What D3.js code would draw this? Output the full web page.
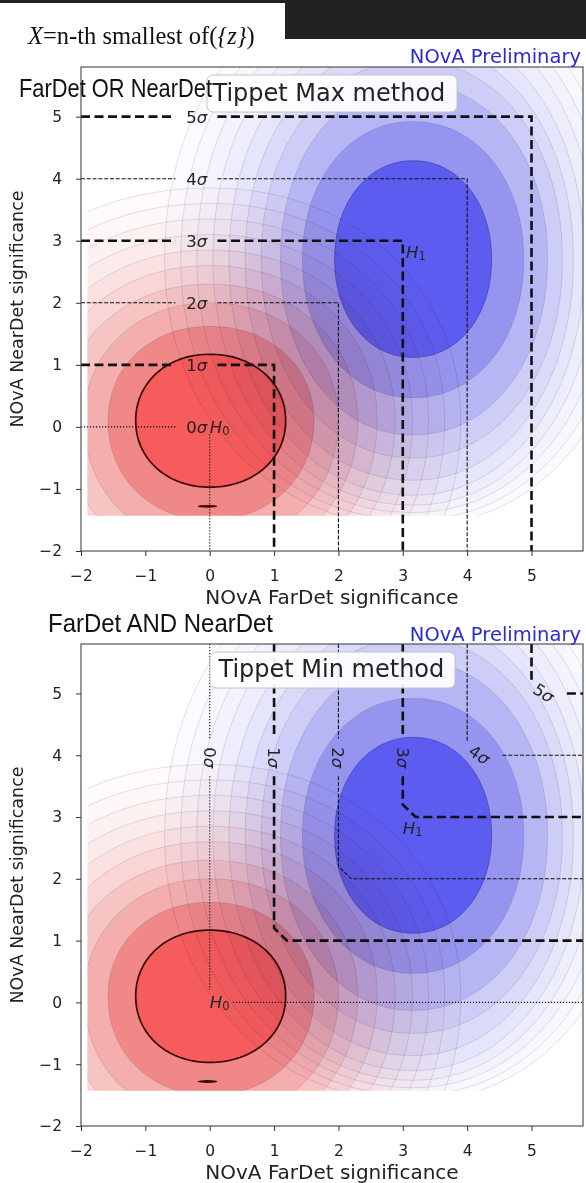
<!DOCTYPE html>
<html><head><meta charset="utf-8">
<script src="https://cdn.jsdelivr.net/npm/d3@7"></script>
<style>
body{margin:0;background:#fff;}
svg{display:block;}
</style></head><body>
<svg id="c" width="586" height="1183"></svg>
<script>
// ---------------- data ----------------
const tickValues = [-2, -1, 0, 1, 2, 3, 4, 5];
const axisDomain = [-2, 5.8];
const sigmaLevels = [0, 1, 2, 3, 4, 5];
const sigmaNames = ["0", "1", "2", "3", "4", "5"];

// H0 (red) density contour extents, innermost level first
const h0Center = [0, 0.1];
const h0Left   = [-1.15, -1.58, -1.95, -2.3, -2.6, -2.9, -3.2, -3.5, -3.8, -4.1];
const h0Right  = [1.18, 1.62, 2.0, 2.3, 2.6, 2.88, 3.15, 3.4, 3.65, 3.9];
const h0Bottom = [-0.97, -1.5, -1.9, -2.2, -2.5, -2.8, -3.1, -3.4, -3.7, -4.0];
const h0Top    = [1.17, 1.62, 2.0, 2.3, 2.6, 2.85, 3.1, 3.35, 3.6, 3.85];
const h0Island = [-0.19, 0.12, -1.28];   // small detached piece of inner contour

// H1 (blue) density contour extents, innermost level first
const h1Center = [3.16, 2.7];
const h1Left   = [1.94, 1.44, 1.1, 0.8, 0.55, 0.3, 0.05, -0.2, -0.45, -0.7];
const h1Right  = [4.38, 4.88, 5.25, 5.48, 5.65, 5.82, 6.0, 6.2, 6.4, 6.6];
const h1Bottom = [1.12, 0.47, -0.13, -0.5, -0.86, -1.1, -1.26, -1.38, -1.5, -1.6];
const h1Top    = [4.29, 4.92, 5.53, 5.9, 6.2, 6.5, 6.8, 7.0, 7.2, 7.4];

// sampled region of the toy experiments
const sampleMinX = -1.9;
const sampleMinY = -1.43;

// ---------------- style ----------------
const redColors  = ["#f65c5c", "#f08888", "#f4aeae", "#f7c4c4", "#f9d5d5", "#fbe2e2", "#fcebeb", "#fdf2f2", "#fef7f7", "#fffbfb"];
const blueColors = ["#5c5cf0", "#9595f0", "#b6b6f4", "#cdcdf7", "#dadaf9", "#e5e5fb", "#ededfc", "#f3f3fd", "#f7f7fe", "#fbfbff"];
const shapeExp = 2.08;
const FONT = "'DejaVu Sans', sans-serif";

const svg = d3.select("#c");

// header
svg.append("rect").attr("x", 0).attr("y", 0).attr("width", 586).attr("height", 3).attr("fill", "#222");
svg.append("rect").attr("x", 285).attr("y", 0).attr("width", 301).attr("height", 39).attr("fill", "#222");
const hdr = svg.append("text").attr("x", 28).attr("y", 44)
  .attr("font-family", "'Liberation Serif', 'Times New Roman', serif").attr("font-size", 24.5)
  .attr("fill", "#111");
hdr.append("tspan").attr("font-style", "italic").text("X");
hdr.append("tspan").text("=n-th smallest of(");
hdr.append("tspan").attr("font-style", "italic").text("{z}");
hdr.append("tspan").text(")");

function levelPath(c, L, R, B, T, i, x, y) {
  const cx = c[0], cy = c[1];
  const pts = d3.range(0, 160).map(k => {
    const a = k / 160 * 2 * Math.PI;
    const co = Math.cos(a), si = Math.sin(a);
    const rx = co >= 0 ? R[i] - cx : cx - L[i];
    const ry = si >= 0 ? T[i] - cy : cy - B[i];
    const px = Math.sign(co) * Math.pow(Math.abs(co), 2 / shapeExp);
    const py = Math.sign(si) * Math.pow(Math.abs(si), 2 / shapeExp);
    return [x(cx + rx * px), y(cy + ry * py)];
  });
  return d3.line().curve(d3.curveLinearClosed)(pts);
}

const panels = [
  {id: "max", top: 67, bottom: 551, title: "Tippet Max method", box: [207, 75, 250, 37], tx: 212.5, ty: 101,
   header: "FarDet OR NearDet", hx: 19, hy: 97, hlen: 193, prelimY: 63, xTitleY: 604},
  {id: "min", top: 644, bottom: 1126, title: "Tippet Min method", box: [210, 652, 245, 36], tx: 218.5, ty: 677,
   header: "FarDet AND NearDet", hx: 48, hy: 632, hlen: 225, prelimY: 641, xTitleY: 1179}
];

function lineStyle(sel, n) {
  if (n === 0) sel.attr("stroke-width", 1.1).attr("stroke-dasharray", "1.2,1.8");
  else if (n % 2 === 1) sel.attr("stroke-width", 2.6).attr("stroke-dasharray", "9,4.5");
  else sel.attr("stroke-width", 1.1).attr("stroke-dasharray", "4,1.8");
  return sel;
}

function sigmaLabel(g, n, tr) {
  const t = g.append("text").attr("transform", tr)
    .attr("text-anchor", "middle").attr("dominant-baseline", "central")
    .attr("font-family", FONT).attr("font-size", 16.5).attr("fill", "#222");
  t.append("tspan").text(sigmaNames[n]);
  t.append("tspan").attr("font-style", "italic").text("σ");
}

function hLabel(g, sub, px, py) {
  const t = g.append("text").attr("x", px).attr("y", py).attr("dominant-baseline", "central")
    .attr("font-family", FONT).attr("font-size", 16.5).attr("fill", "#222");
  t.append("tspan").attr("font-style", "italic").text("H");
  t.append("tspan").attr("font-size", 11.5).attr("dy", 4).text(sub);
}

panels.forEach(p => {
  const x = d3.scaleLinear(axisDomain, [81, 583]);
  const y = d3.scaleLinear(axisDomain, [p.bottom, p.top]);
  const g = svg.append("g");

  const defs = g.append("defs");
  defs.append("clipPath").attr("id", "frame-" + p.id).append("rect")
    .attr("x", x(-2)).attr("y", y(5.8)).attr("width", x(5.8) - x(-2)).attr("height", y(-2) - y(5.8));
  defs.append("clipPath").attr("id", "fill-" + p.id).append("rect")
    .attr("x", x(sampleMinX)).attr("y", y(5.8)).attr("width", x(5.8) - x(sampleMinX)).attr("height", y(sampleMinY) - y(5.8));

  const fills = g.append("g").attr("clip-path", `url(#fill-${p.id})`).style("isolation", "isolate");
  [[h0Center, h0Left, h0Right, h0Bottom, h0Top, redColors, "#3a0606", 1.7],
   [h1Center, h1Left, h1Right, h1Bottom, h1Top, blueColors, "rgba(40,40,130,0.45)", 1]].forEach(d => {
    const grp = fills.append("g").style("mix-blend-mode", "multiply");
    for (let i = d[1].length - 1; i >= 0; i--) {
      grp.append("path").attr("d", levelPath(d[0], d[1], d[2], d[3], d[4], i, x, y))
        .attr("fill", d[5][i])
        .attr("stroke", i === 0 ? d[6] : "rgba(0,0,0,0.14)")
        .attr("stroke-width", i === 0 ? d[7] : 0.8);
    }
    if (d[0] === h0Center) {
      grp.append("ellipse").attr("cx", (x(h0Island[0]) + x(h0Island[1])) / 2).attr("cy", y(h0Island[2]))
        .attr("rx", (x(h0Island[1]) - x(h0Island[0])) / 2).attr("ry", 1.4).attr("fill", "#3a0606");
    }
  });

  // sigma boundary lines
  const lines = g.append("g").attr("clip-path", `url(#frame-${p.id})`)
    .attr("fill", "none").attr("stroke", "#111");
  const ln = d3.line().x(d => x(d[0])).y(d => y(d[1]));
  const labels = g.append("g");
  sigmaLevels.forEach(n => {
    const segs = [];
    if (p.id === "max") {
      segs.push([[-2, n], [-0.53, n]]);
      if (n > 0) segs.push([[0.12, n], [n, n], [n, -2]]);
      else segs.push([[0, -0.12], [0, -2]]);
      sigmaLabel(labels, n, `translate(${x(-0.2)},${y(n)})`);
    } else {
      if (n < 4) {
        segs.push([[n, 5.8], [n, 4.27]]);
        if (n === 0) { segs.push([[0, 3.66], [0, 0.2]]); segs.push([[0.36, 0], [5.8, 0]]); }
        else segs.push([[n, 3.66], [n, n + 0.2], [n + 0.2, n], [5.8, n]]);
        sigmaLabel(labels, n, `translate(${x(n)},${y(3.96)}) rotate(90)`);
      } else {
        segs.push([[n, 5.8], [n, n + 0.22]]);
        segs.push([[n + 0.55, n], [5.8, n]]);
        sigmaLabel(labels, n, `translate(${x(n + 0.19)},${y(n + 0.01)}) rotate(33)`);
      }
    }
    segs.forEach(s => lineStyle(lines.append("path").attr("d", ln(s)), n));
  });
  if (p.id === "max") {
    hLabel(labels, "0", x(0), y(0));
    hLabel(labels, "1", x(3.05), y(2.82));
  } else {
    hLabel(labels, "0", x(0), y(0));
    hLabel(labels, "1", x(3.0), y(2.82));
  }

  // axes
  const ax = g.append("g").attr("transform", `translate(0,${y(-2)})`)
    .call(d3.axisBottom(x).tickValues(tickValues).tickSize(5).tickPadding(14).tickFormat(d3.format("d")));
  const ay = g.append("g").attr("transform", `translate(${x(-2)},0)`)
    .call(d3.axisLeft(y).tickValues(tickValues).tickSize(5).tickPadding(14).tickFormat(d3.format("d")));
  [ax, ay].forEach(a => {
    a.select(".domain").remove();
    a.selectAll("line").attr("stroke", "#333");
    a.selectAll("text").attr("font-family", FONT).attr("font-size", 15.5).attr("fill", "#222");
  });
  g.append("rect").attr("x", x(-2)).attr("y", y(5.8)).attr("width", x(5.8) - x(-2)).attr("height", y(-2) - y(5.8))
    .attr("fill", "none").attr("stroke", "#444").attr("stroke-width", 1.1);

  g.append("text").attr("x", (x(-2) + x(5.8)) / 2).attr("y", p.xTitleY).attr("text-anchor", "middle")
    .attr("font-family", FONT).attr("font-size", 20).attr("fill", "#222").text("NOvA FarDet significance");
  g.append("text").attr("transform", `translate(23,${(y(-2) + y(5.8)) / 2}) rotate(-90)`).attr("text-anchor", "middle")
    .attr("font-family", FONT).attr("font-size", 17.5).attr("fill", "#222").text("NOvA NearDet significance");

  g.append("text").attr("x", 581).attr("y", p.prelimY).attr("text-anchor", "end")
    .attr("font-family", FONT).attr("font-size", 19.5).attr("fill", "#2b2bd4").text("NOvA Preliminary");

  // method box
  g.append("rect").attr("x", p.box[0]).attr("y", p.box[1]).attr("width", p.box[2]).attr("height", p.box[3])
    .attr("rx", 6).attr("fill", "rgba(255,255,255,0.92)").attr("stroke", "#c4c4c4");
  g.append("text").attr("x", p.tx).attr("y", p.ty).attr("font-family", FONT).attr("font-size", 24)
    .attr("fill", "#222").text(p.title);

  g.append("text").attr("x", p.hx).attr("y", p.hy)
    .attr("font-family", "'Liberation Sans', Arial, sans-serif").attr("font-size", 26.5)
    .attr("textLength", p.hlen).attr("lengthAdjust", "spacingAndGlyphs").attr("fill", "#111").text(p.header);
});
</script>
</body></html>
